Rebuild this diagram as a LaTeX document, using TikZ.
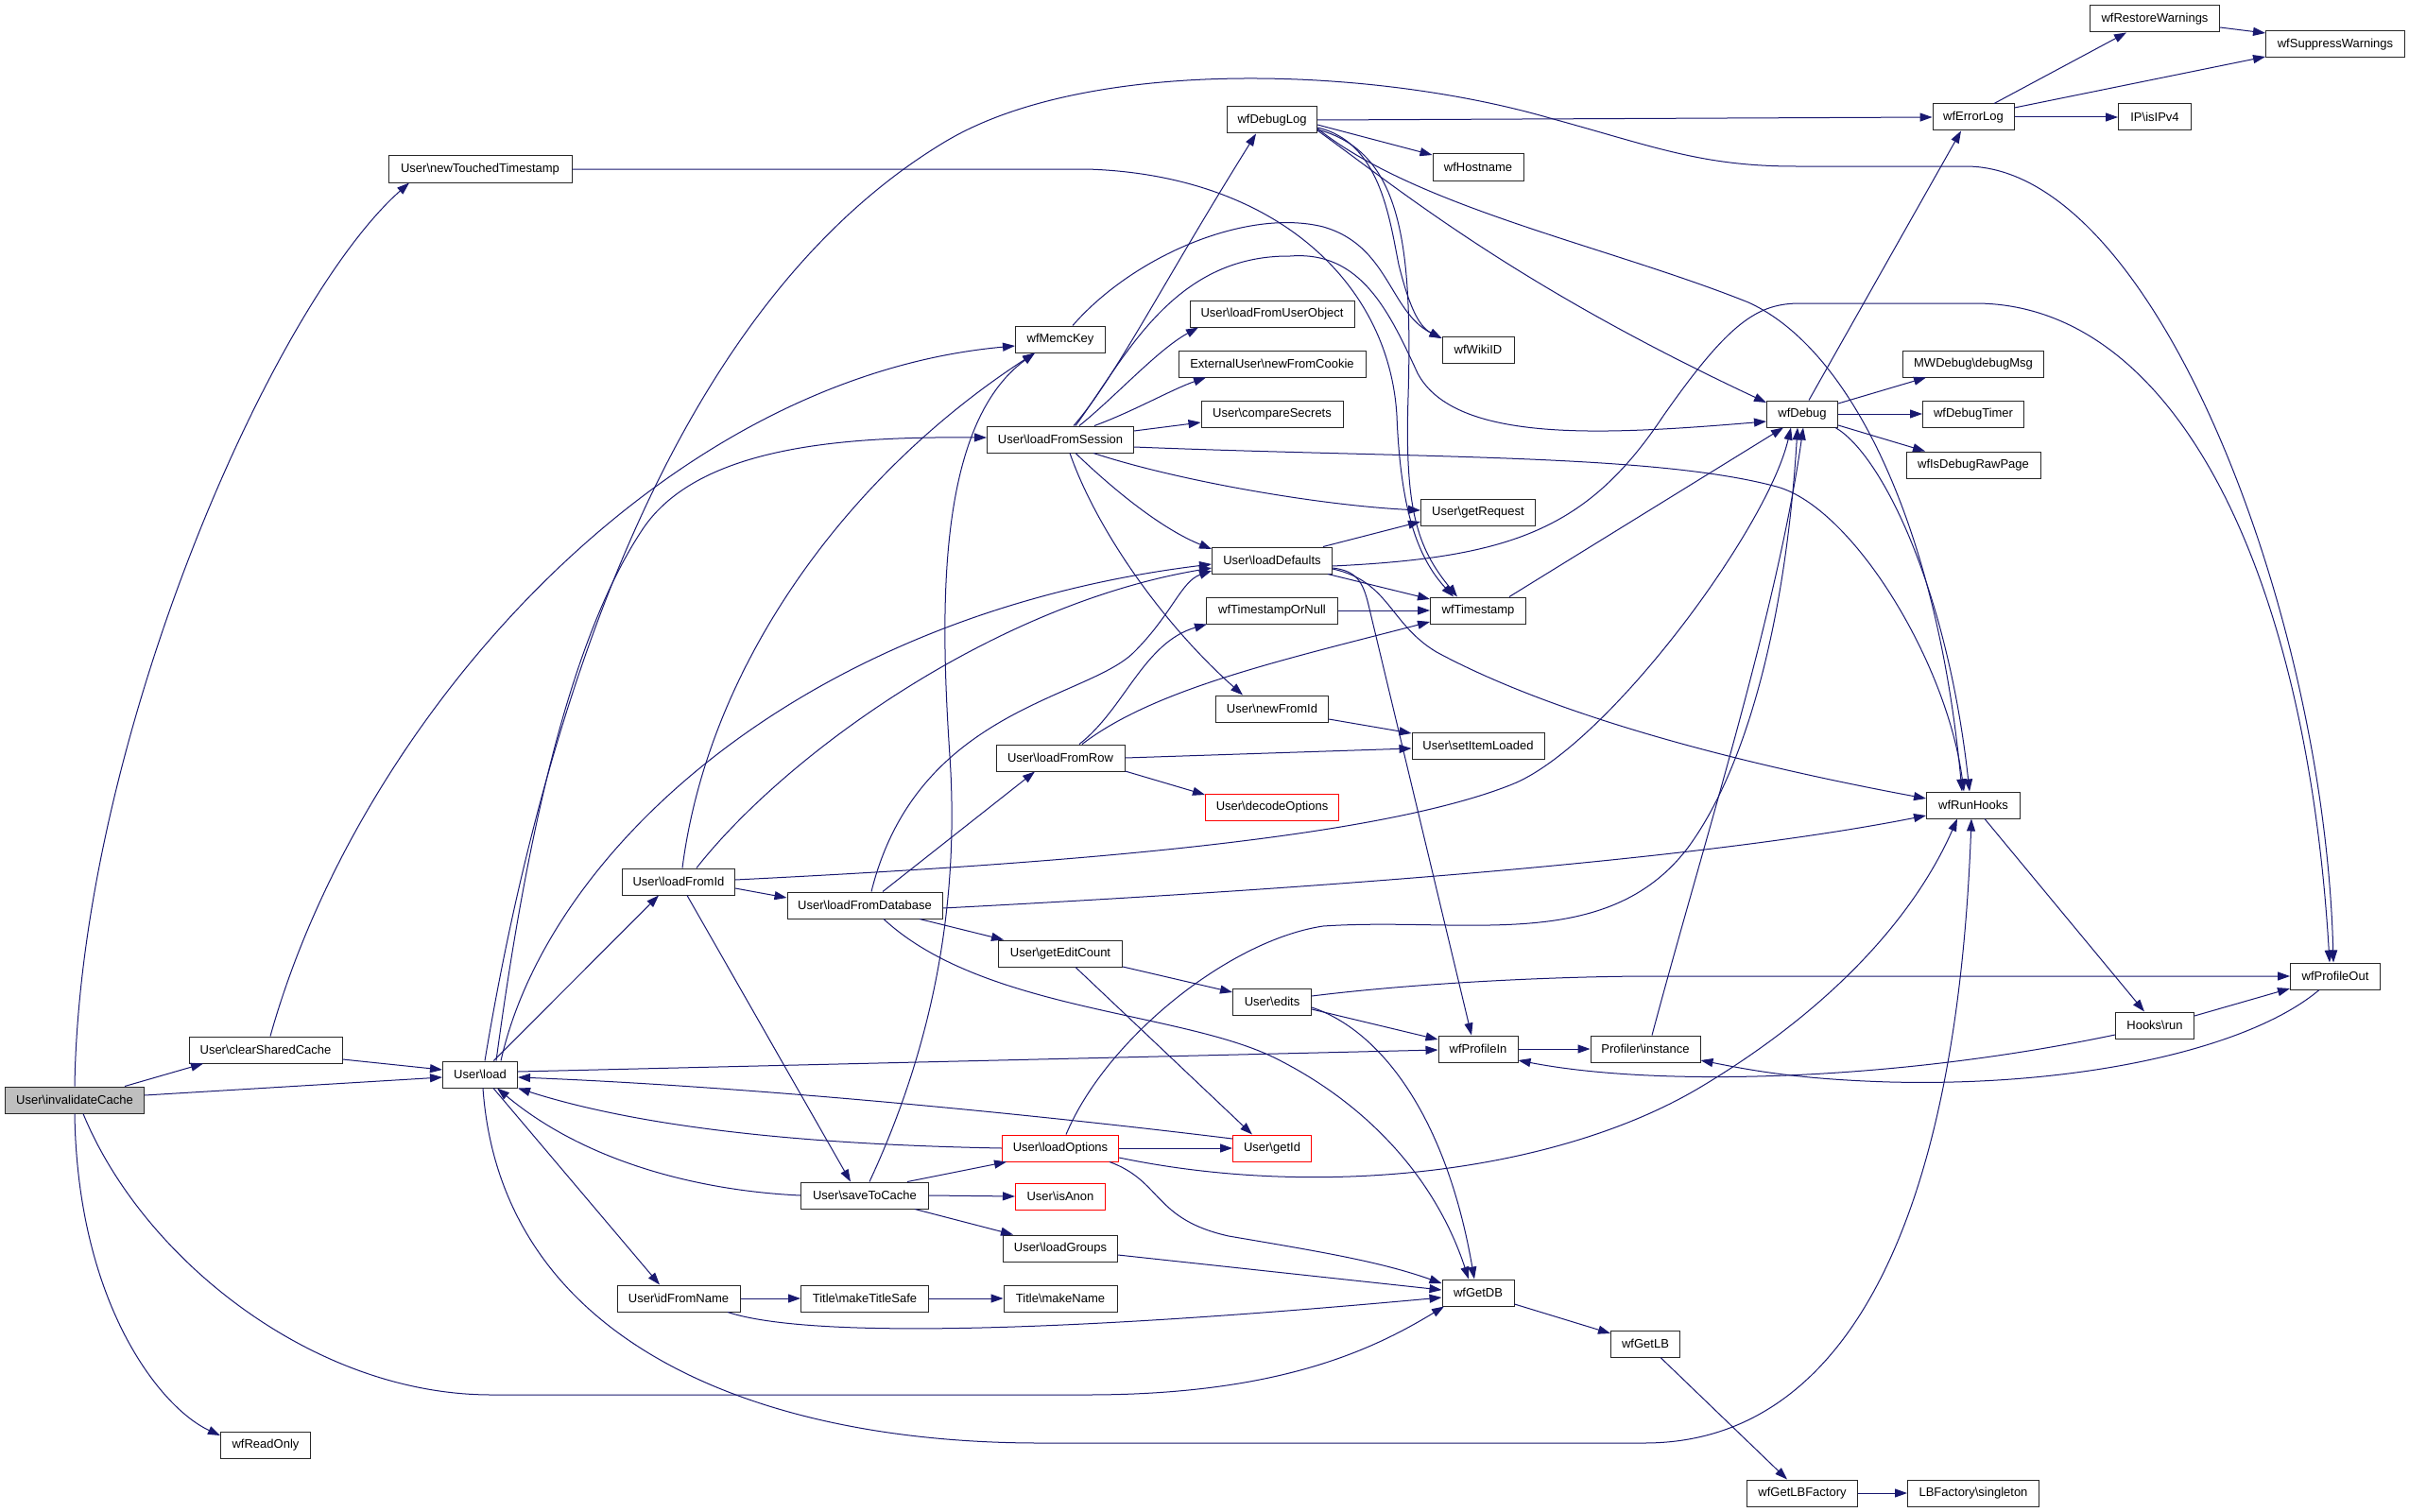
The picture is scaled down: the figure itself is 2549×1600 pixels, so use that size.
\documentclass[tikz,border=0pt]{standalone}
\usepackage{fontspec}
\setmainfont{Liberation Sans}
\usetikzlibrary{arrows.meta}
\definecolor{edgec}{RGB}{25,25,112}
\definecolor{boxc}{RGB}{40,40,40}
\definecolor{grayfill}{RGB}{191,191,191}
\begin{document}
\begin{tikzpicture}[x=1pt,y=-1pt,
  fnbox/.style={draw=boxc, line width=1pt, fill=white, minimum height=28pt, inner xsep=2pt, inner ysep=0pt, font=\fontsize{13pt}{15pt}\selectfont},
  redbox/.style={fnbox, draw=red},
  conn/.style={draw=edgec, line width=1pt, -{Triangle[length=13pt,width=9pt]}},
]
\fill[white] (0,0) rectangle (2549,1600);
\useasboundingbox (0,0) rectangle (2549,1600);

% ---------- nodes ----------
\node[fnbox, fill=grayfill, minimum width=147pt] (inv) at (79,1164) {User\textbackslash invalidateCache};
\node[fnbox, minimum width=162pt] (csc) at (281,1111) {User\textbackslash clearSharedCache};
\node[fnbox, minimum width=194pt] (ntt) at (508,179) {User\textbackslash newTouchedTimestamp};
\node[fnbox, minimum width=95pt] (rdo) at (281,1529) {wfReadOnly};
\node[fnbox, minimum width=79pt] (load) at (508,1137) {User\textbackslash load};
\node[fnbox, minimum width=119pt] (lfi) at (718,933) {User\textbackslash loadFromId};
\node[fnbox, minimum width=130pt] (ifn) at (718,1374) {User\textbackslash idFromName};
\node[fnbox, minimum width=95pt] (mck) at (1122,359) {wfMemcKey};
\node[fnbox, minimum width=155pt] (lfs) at (1122,465) {User\textbackslash loadFromSession};
\node[fnbox, minimum width=164pt] (lfd) at (915,958) {User\textbackslash loadFromDatabase};
\node[fnbox, minimum width=135pt] (stc) at (915,1265) {User\textbackslash saveToCache};
\node[fnbox, minimum width=136pt] (lfr) at (1122,802) {User\textbackslash loadFromRow};
\node[fnbox, minimum width=131pt] (gec) at (1122,1009) {User\textbackslash getEditCount};
\node[fnbox, minimum width=135pt] (mts) at (915,1374) {Title\textbackslash makeTitleSafe};
\node[redbox, minimum width=123pt] (lop) at (1122,1215) {User\textbackslash loadOptions};
\node[redbox, minimum width=95pt] (ian) at (1122,1266) {User\textbackslash isAnon};
\node[fnbox, minimum width=121pt] (lgr) at (1122,1321) {User\textbackslash loadGroups};
\node[fnbox, minimum width=120pt] (mkn) at (1122,1374) {Title\textbackslash makeName};
\node[fnbox, minimum width=95pt] (wdl) at (1346,127) {wfDebugLog};
\node[fnbox, minimum width=174pt] (luo) at (1346,332) {User\textbackslash loadFromUserObject};
\node[fnbox, minimum width=198pt] (enc) at (1346,385) {ExternalUser\textbackslash newFromCookie};
\node[fnbox, minimum width=150pt] (ucs) at (1346,438) {User\textbackslash compareSecrets};
\node[fnbox, minimum width=127pt] (ldf) at (1346,593) {User\textbackslash loadDefaults};
\node[fnbox, minimum width=139pt] (tsn) at (1346,646) {wfTimestampOrNull};
\node[fnbox, minimum width=119pt] (nfi) at (1346,750) {User\textbackslash newFromId};
\node[redbox, minimum width=141pt] (dco) at (1346,854) {User\textbackslash decodeOptions};
\node[fnbox, minimum width=83pt] (eds) at (1346,1060) {User\textbackslash edits};
\node[redbox, minimum width=83pt] (gid) at (1346,1215) {User\textbackslash getId};
\node[fnbox, minimum width=96pt] (wfh) at (1564,177) {wfHostname};
\node[fnbox, minimum width=76pt] (wwi) at (1564,370) {wfWikiID};
\node[fnbox, minimum width=121pt] (ugr) at (1564,542) {User\textbackslash getRequest};
\node[fnbox, minimum width=101pt] (wts) at (1564,646) {wfTimestamp};
\node[fnbox, minimum width=140pt] (sil) at (1564,789) {User\textbackslash setItemLoaded};
\node[fnbox, minimum width=84pt] (wpi) at (1564,1110) {wfProfileIn};
\node[fnbox, minimum width=76pt] (gdb) at (1564,1368) {wfGetDB};
\node[fnbox, minimum width=116pt] (pfi) at (1741,1110) {Profiler\textbackslash instance};
\node[fnbox, minimum width=73pt] (glb) at (1741,1422) {wfGetLB};
\node[fnbox, minimum width=75pt] (wfd) at (1907,438) {wfDebug};
\node[fnbox, minimum width=117pt] (glf) at (1907,1580) {wfGetLBFactory};
\node[fnbox, minimum width=86pt] (wel) at (2088,124) {wfErrorLog};
\node[fnbox, minimum width=149pt] (mdm) at (2088,385) {MWDebug\textbackslash debugMsg};
\node[fnbox, minimum width=107pt] (wdt) at (2088,438) {wfDebugTimer};
\node[fnbox, minimum width=142pt] (wdr) at (2088,492) {wfIsDebugRawPage};
\node[fnbox, minimum width=99pt] (wrh) at (2088,852) {wfRunHooks};
\node[fnbox, minimum width=139pt] (lbs) at (2088,1580) {LBFactory\textbackslash singleton};
\node[fnbox, minimum width=137pt] (wrw) at (2280,20) {wfRestoreWarnings};
\node[fnbox, minimum width=77pt] (ipv) at (2280,124) {IP\textbackslash isIPv4};
\node[fnbox, minimum width=83pt] (hkr) at (2280,1085) {Hooks\textbackslash run};
\node[fnbox, minimum width=147pt] (wsw) at (2471,47) {wfSuppressWarnings};
\node[fnbox, minimum width=95pt] (wpo) at (2471,1033) {wfProfileOut};

% ---------- edges ----------
% invalidateCache
\draw[conn] ([xshift=53pt]inv.north) -- ([xshift=-66pt]csc.south);
\draw[conn] ([yshift=5pt]inv.east) -- ([yshift=-3pt]load.west);
\draw[conn] (inv.north) .. controls (85,780) and (290,320) .. ([xshift=-75pt]ntt.south);
\draw[conn] (inv.south) .. controls (82,1380) and (170,1490) .. ([yshift=10pt]rdo.west);
\draw[conn] ([xshift=9pt]inv.south) .. controls (150,1330) and (330,1476) .. (520,1476) -- (1150,1476) .. controls (1350,1476) and (1450,1430) .. ([xshift=-36pt]gdb.south);
% clearSharedCache
\draw[conn] ([yshift=-10pt]csc.east) -- ([yshift=5pt]load.west);
\draw[conn] ([xshift=5pt]csc.north) .. controls (380,760) and (700,400) .. ([yshift=-7pt]mck.west);
% newTouchedTimestamp
\draw[conn] (ntt.east) -- (1150,179) .. controls (1350,185) and (1470,300) .. (1478,440) .. controls (1482,540) and (1500,590) .. ([xshift=-26pt]wts.north);
% User::load
\draw[conn] ([xshift=17pt]load.north) .. controls (555,900) and (600,680) .. (680,560) .. controls (740,470) and (900,462) .. ([yshift=2pt]lfs.west);
\draw[conn] ([xshift=22pt]load.north) .. controls (580,900) and (850,650) .. ([yshift=-4pt]ldf.west);
\draw[conn] (load) -- ([xshift=-21pt]lfi.south);
\draw[conn] ([xshift=14pt]load.south) -- ([xshift=-20pt]ifn.north);
\draw[conn] ([yshift=3pt]load.east) -- ([yshift=-1pt]wpi.west);
\draw[conn] ([xshift=5pt]load.north) .. controls (570,780) and (700,330) .. (1000,150) .. controls (1150,60) and (1450,70) .. (1640,125) .. controls (1750,155) and (1800,176) .. (1900,176) -- (2080,176) .. controls (2280,176) and (2460,650) .. ([xshift=-2pt]wpo.north);
\draw[conn] ([xshift=3pt]load.south) .. controls (530,1420) and (800,1527) .. (1100,1527) -- (1740,1527) .. controls (1950,1527) and (2070,1300) .. ([xshift=-2pt]wrh.south);
% loadFromId
\draw[conn] ([xshift=4pt]lfi.north) .. controls (750,700) and (900,500) .. ([xshift=-27pt]mck.south);
\draw[conn] ([xshift=19pt]lfi.north) .. controls (830,800) and (1050,640) .. ([yshift=-8pt]ldf.west);
\draw[conn] ([yshift=-7pt]lfi.east) -- ([yshift=8pt]lfd.west);
\draw[conn] ([xshift=9pt]lfi.south) -- ([xshift=-15pt]stc.north);
\draw[conn] ([yshift=2pt]lfi.east) .. controls (1100,915) and (1450,890) .. (1600,830) .. controls (1700,790) and (1870,560) .. ([xshift=-12pt]wfd.south);
% idFromName
\draw[conn] (ifn.east) -- (mts.west);
\draw[conn] ([xshift=52pt]ifn.south) .. controls (850,1415) and (1100,1412) .. ([yshift=-5pt]gdb.west);
% loadFromSession
\draw[conn] ([xshift=14pt]lfs.north) .. controls (1180,400) and (1230,300) .. ([xshift=-17pt]wdl.south);
\draw[conn] ([xshift=20pt]lfs.north) .. controls (1180,420) and (1225,370) .. ([xshift=-78pt]luo.south);
\draw[conn] ([xshift=36pt]lfs.north) .. controls (1200,435) and (1240,412) .. ([xshift=-70pt]enc.south);
\draw[conn] ([yshift=9pt]lfs.east) -- ([yshift=-9pt]ucs.west);
\draw[conn] ([xshift=16pt]lfs.north) .. controls (1190,380) and (1240,270) .. (1365,271) .. controls (1440,265) and (1470,330) .. (1500,395) .. controls (1540,470) and (1700,460) .. ([yshift=-8pt]wfd.west);
\draw[conn] ([yshift=-8pt]lfs.east) .. controls (1500,485) and (1750,480) .. (1880,515) .. controls (1960,537) and (2060,700) .. ([xshift=-10pt]wrh.north);
\draw[conn] ([xshift=35pt]lfs.south) .. controls (1250,510) and (1400,535) .. ([yshift=2pt]ugr.west);
\draw[conn] ([xshift=16pt]lfs.south) .. controls (1180,520) and (1230,560) .. ([yshift=12pt]ldf.west);
\draw[conn] ([xshift=10pt]lfs.south) .. controls (1160,560) and (1230,660) .. ([xshift=-31pt]nfi.north);
% wfMemcKey
\draw[conn] ([xshift=13pt]mck.north) .. controls (1200,270) and (1320,220) .. (1400,240) .. controls (1470,260) and (1470,330) .. ([yshift=12pt]wwi.west);
% loadFromDatabase
\draw[conn] ([xshift=19pt]lfd.north) -- ([xshift=-27pt]lfr.south);
\draw[conn] ([xshift=7pt]lfd.north) .. controls (970,750) and (1150,740) .. (1200,690) .. controls (1240,650) and (1250,615) .. ([yshift=-11pt]ldf.west);
\draw[conn] ([xshift=58pt]lfd.south) -- ([xshift=-60pt]gec.north);
\draw[conn] ([xshift=20pt]lfd.south) .. controls (1040,1070) and (1250,1070) .. (1350,1120) .. controls (1450,1170) and (1520,1250) .. ([xshift=-10pt]gdb.north);
\draw[conn] ([yshift=-3pt]lfd.east) .. controls (1400,940) and (1800,910) .. ([yshift=-11pt]wrh.west);
% saveToCache
\draw[conn] ([xshift=5pt]stc.north) .. controls (990,1100) and (1015,950) .. (1005,800) .. controls (995,650) and (990,450) .. ([xshift=-27pt]mck.south);
\draw[conn] (stc.west) .. controls (740,1260) and (620,1230) .. ([xshift=18pt]load.south);
\draw[conn] ([xshift=45pt]stc.north) -- ([xshift=-57pt]lop.south);
\draw[conn] (stc.east) -- (ian.west);
\draw[conn] ([xshift=53pt]stc.south) -- ([xshift=-50pt]lgr.north);
% loadFromRow
\draw[conn] ([xshift=20pt]lfr.north) .. controls (1190,750) and (1210,680) .. ([xshift=-69pt]tsn.south);
\draw[conn] ([xshift=23pt]lfr.north) .. controls (1220,730) and (1350,700) .. ([yshift=-12pt]wts.west);
\draw[conn] (lfr.east) -- ([yshift=-3pt]sil.west);
\draw[conn] ([yshift=-14pt]lfr.east) -- ([yshift=13pt]dco.west);
% getEditCount
\draw[conn] ([yshift=-14pt]gec.east) -- ([yshift=10pt]eds.west);
\draw[conn] ([xshift=16pt]gec.south) -- ([xshift=-21pt]gid.north);
% makeTitleSafe
\draw[conn] (mts.east) -- (mkn.west);
% wfDebugLog
\draw[conn] (wdl.east) -- (wel.west);
\draw[conn] ([yshift=-5pt]wdl.east) -- ([yshift=13pt]wfh.west);
\draw[conn] ([yshift=-8pt]wdl.east) .. controls (1460,150) and (1470,230) .. (1480,280) .. controls (1490,320) and (1500,345) .. ([yshift=12pt]wwi.west);
\draw[conn] ([yshift=-10pt]wdl.east) .. controls (1480,160) and (1495,250) .. (1490,420) .. controls (1486,540) and (1500,580) .. ([xshift=-22pt]wts.north);
\draw[conn] ([yshift=-11pt]wdl.east) .. controls (1480,200) and (1600,300) .. ([yshift=12pt]wfd.west);
\draw[conn] ([yshift=-9pt]wdl.east) .. controls (1500,220) and (1700,260) .. (1850,320) .. controls (1960,370) and (2050,560) .. ([xshift=-12pt]wrh.north);
% loadDefaults
\draw[conn] ([xshift=54pt]ldf.north) -- ([yshift=-10pt]ugr.west);
\draw[conn] ([xshift=59pt]ldf.south) -- ([yshift=12pt]wts.west);
\draw[conn] ([yshift=-8pt]ldf.east) .. controls (1435,604) and (1442,615) .. (1448,640) -- ([xshift=-7pt]wpi.north);
\draw[conn] ([yshift=-9pt]ldf.east) .. controls (1470,615) and (1470,660) .. (1520,690) .. controls (1650,760) and (1850,810) .. ([yshift=7pt]wrh.west);
\draw[conn] ([yshift=-6pt]ldf.east) .. controls (1600,590) and (1680,560) .. (1760,440) .. controls (1830,340) and (1860,321) .. (1905,321) -- (2090,321) .. controls (2300,321) and (2440,600) .. ([xshift=-6pt]wpo.north);
% wfTimestampOrNull, newFromId
\draw[conn] (tsn.east) -- (wts.west);
\draw[conn] ([yshift=-11pt]nfi.east) -- ([yshift=13pt]sil.west);
% User::edits
\draw[conn] ([yshift=6pt]eds.east) .. controls (1500,1040) and (1650,1033) .. (1750,1033) -- (wpo.west);
\draw[conn] ([yshift=-8pt]eds.east) -- ([yshift=10pt]wpi.west);
\draw[conn] ([yshift=-6pt]eds.east) .. controls (1460,1090) and (1530,1180) .. ([xshift=-4pt]gdb.north);
% loadOptions
\draw[conn] (lop.west) .. controls (900,1212) and (700,1200) .. (load.south east);
\draw[conn] (lop.east) -- (gid.west);
\draw[conn] ([xshift=52pt]lop.south) .. controls (1230,1250) and (1220,1290) .. (1300,1308) .. controls (1400,1325) and (1460,1335) .. ([yshift=10pt]gdb.west);
\draw[conn] ([yshift=-10pt]lop.east) .. controls (1400,1270) and (1650,1240) .. (1800,1150) .. controls (1950,1060) and (2030,960) .. ([xshift=-17pt]wrh.south);
\draw[conn] ([xshift=6pt]lop.north) .. controls (1170,1100) and (1300,995) .. (1400,980) .. controls (1550,970) and (1700,1010) .. (1786,897) .. controls (1850,810) and (1890,650) .. ([xshift=-5pt]wfd.south);
% getId
\draw[conn] ([yshift=10pt]gid.west) .. controls (1100,1180) and (800,1150) .. ([yshift=-3pt]load.east);
% loadGroups
\draw[conn] ([yshift=-7pt]lgr.east) -- ([yshift=3pt]gdb.west);
% wfTimestamp
\draw[conn] ([xshift=33pt]wts.north) -- ([xshift=-20pt]wfd.south);
% profiling
\draw[conn] (wpi.east) -- (pfi.west);
\draw[conn] ([xshift=7pt]pfi.north) .. controls (1800,900) and (1880,650) .. ([xshift=1pt]wfd.south);
% DB chain
\draw[conn] ([yshift=-12pt]gdb.east) -- ([yshift=11pt]glb.west);
\draw[conn] ([xshift=16pt]glb.south) -- ([xshift=-16pt]glf.north);
\draw[conn] (glf.east) -- (lbs.west);
% wfDebug
\draw[conn] ([yshift=11pt]wfd.east) -- ([xshift=-50pt]mdm.south);
\draw[conn] (wfd.east) -- (wdt.west);
\draw[conn] ([yshift=-12pt]wfd.east) -- ([xshift=-51pt]wdr.north);
\draw[conn] ([xshift=7pt]wfd.north) -- ([xshift=-13pt]wel.south);
\draw[conn] ([xshift=35pt]wfd.south) .. controls (1990,480) and (2060,620) .. ([xshift=-4pt]wrh.north);
% wfErrorLog
\draw[conn] ([xshift=22pt]wel.north) -- ([xshift=-30pt]wrw.south);
\draw[conn] ([yshift=10pt]wel.east) -- ([yshift=-13pt]wsw.west);
\draw[conn] (wel.east) -- (ipv.west);
\draw[conn] ([yshift=-9pt]wrw.east) -- ([yshift=12pt]wsw.west);
% hooks
\draw[conn] ([xshift=12pt]wrh.south) -- ([xshift=-11pt]hkr.north);
\draw[conn] ([yshift=10pt]hkr.east) -- ([yshift=-13pt]wpo.west);
\draw[conn] ([yshift=-10pt]hkr.west) .. controls (2000,1145) and (1750,1150) .. ([yshift=-12pt]wpi.east);
\draw[conn] ([xshift=-17pt]wpo.south) .. controls (2380,1110) and (2200,1150) .. (2000,1145) .. controls (1900,1142) and (1850,1132) .. ([yshift=-12pt]pfi.east);
\end{tikzpicture}
\end{document}
